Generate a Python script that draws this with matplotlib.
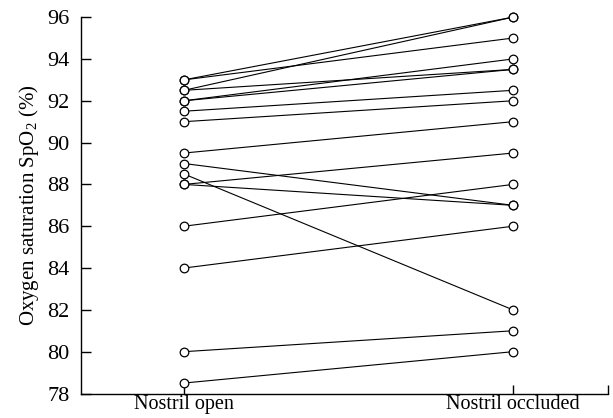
import matplotlib
matplotlib.use("Agg")
import matplotlib.pyplot as plt

plt.rcParams['font.family'] = ['Liberation Serif', 'DejaVu Serif']
plt.rcParams['mathtext.fontset'] = 'custom'
plt.rcParams['mathtext.rm'] = 'Liberation Serif'

# paired SpO2 readings, one entry per subject
nostril_open = [93, 93, 92.5, 92.5, 92, 92, 91.5, 91, 89.5, 89, 88.5, 88, 88, 86, 84, 80, 78.5]
nostril_occluded = [96, 95, 96, 93.5, 94, 93.5, 92.5, 92, 91, 87, 82, 89.5, 87, 88, 86, 81, 80]
conditions = ['Nostril open', 'Nostril occluded']
yticks = [78, 80, 82, 84, 86, 88, 90, 92, 94, 96]

fig = plt.figure(figsize=(6.13, 4.18), dpi=100)
ax = fig.add_axes([0.132, 0.0586, 0.86, 0.9004])

for a, b in zip(nostril_open, nostril_occluded):
    ax.plot([0, 1], [a, b], color='black', lw=0.8, marker='o', ms=6.2,
            mfc='white', mec='black', mew=0.9, clip_on=False, zorder=3)

xmax = 1.289
ax.set_xlim(-0.313, xmax)
ax.set_ylim(78, 96)
ax.set_yticks(yticks)
ax.set_xticks([0, 1, xmax])
ax.set_xticklabels(conditions + [''])

ax.spines['top'].set_visible(False)
ax.spines['right'].set_visible(False)
ax.spines['left'].set_linewidth(1.0)
ax.spines['bottom'].set_linewidth(1.0)
ax.tick_params(axis='y', direction='in', length=7, width=1.0, labelsize=16, pad=8)
ax.tick_params(axis='x', direction='in', length=6.5, width=1.0, labelsize=14.5, pad=1)

ax.set_ylabel('Oxygen saturation SpO$_2$ (%)', fontsize=15, labelpad=5)

fig.savefig('out.png', dpi=100)
